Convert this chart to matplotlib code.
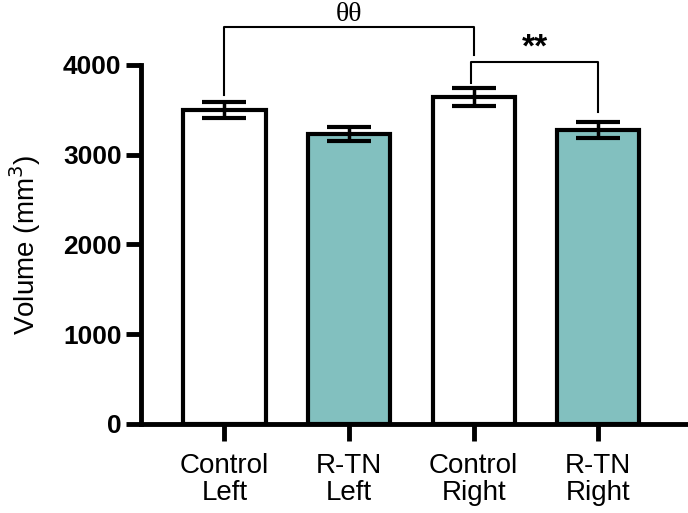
import numpy as np
import matplotlib
matplotlib.use("Agg")
import matplotlib.pyplot as plt

# group labels and measured volumes (mm^3)
groups = ["Control\nLeft", "R-TN\nLeft", "Control\nRight", "R-TN\nRight"]
means = [3500, 3230, 3645, 3275]
errors = [85, 80, 100, 90]
fills = ["white", "#82C0BF", "white", "#82C0BF"]

plt.rcParams["font.family"] = ["Liberation Sans", "DejaVu Sans"]

fig = plt.figure(figsize=(6.88, 5.13), dpi=100)
ax = fig.add_axes([0.2049, 0.1735, 0.7951, 0.6998])

x = np.arange(len(groups))
ax.bar(x, means, width=0.66, color=fills, edgecolor="black", linewidth=3, zorder=2)
ax.errorbar(x, means, yerr=errors, fmt="none", ecolor="black", elinewidth=2.5,
            capsize=16, capthick=3, zorder=3)

ax.set_xlim(-0.67, 3.72)
ax.set_ylim(0, 4000)
ax.set_yticks([0, 1000, 2000, 3000, 4000])
ax.set_xticks(x)
ax.set_xticklabels(groups, fontsize=20, linespacing=1.05)
for lbl in ax.get_yticklabels():
    lbl.set_fontsize(19)
    lbl.set_fontweight("bold")

ax.spines["top"].set_visible(False)
ax.spines["right"].set_visible(False)
ax.spines["left"].set_linewidth(3.5)
ax.spines["bottom"].set_linewidth(3.5)
ax.spines["left"].set_capstyle("projecting")
ax.tick_params(axis="y", length=11, width=3.5, pad=3)
ax.tick_params(axis="x", length=12, width=3.5, pad=9)

ax.set_ylabel("Volume (mm$^3$)", fontsize=20)
ax.yaxis.set_label_coords(-0.18, 0.5)

# significance brackets
ax.plot([0, 0, 2.0, 2.0], [3666, 4423, 4423, 4111], color="black", lw=1.5, clip_on=False)
ax.text(1.0, 4560, "θθ", ha="center", va="center", fontsize=20,
        family=["Liberation Serif", "DejaVu Serif"], clip_on=False)
ax.plot([1.98, 1.98, 3, 3], [3800, 4033, 4033, 3476], color="black", lw=1.5, clip_on=False)
ax.text(2.49, 4190, "**", ha="center", va="center", fontsize=24, fontweight="bold", clip_on=False)

fig.savefig("out.png", dpi=100)
